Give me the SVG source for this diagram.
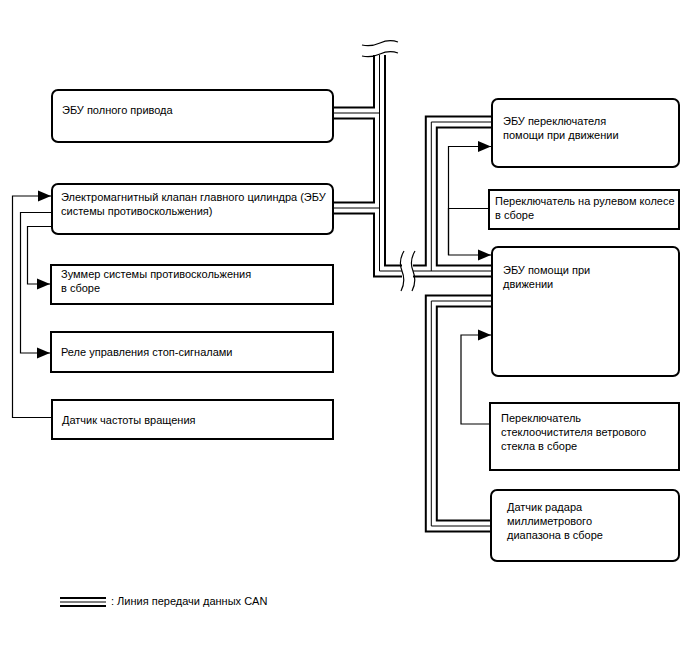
<svg xmlns="http://www.w3.org/2000/svg" width="688" height="658" viewBox="0 0 688 658">
<style>
.box{fill:#fff;stroke:#000;stroke-width:2}
.t{font-family:"Liberation Sans",Arial,sans-serif;font-size:11px;fill:#000}
.busB{fill:none;stroke:#000;stroke-width:13;stroke-linejoin:miter;stroke-linecap:butt}
.busW{fill:none;stroke:#fff;stroke-width:9;stroke-linejoin:miter;stroke-linecap:butt}
.busM{fill:none;stroke:#000;stroke-width:1;stroke-linejoin:miter;stroke-linecap:butt}
.wire{fill:none;stroke:#000;stroke-width:1.2}
.brk{fill:none;stroke:#000;stroke-width:1.2}
</style>
<defs>
<marker id="arr" markerUnits="userSpaceOnUse" markerWidth="14" markerHeight="12" refX="13" refY="6" orient="auto">
<path d="M0,0.5 L13,6 L0,11.5 Z" fill="#000"/>
</marker>
</defs>
<g id="connectors">
<g id="can-bus">
<path class="busB" d="M379.5,55 V271 H402 M379.5,113 H333 M379.5,208 H333 M413,271 H491 M431.3,271 V122 H491 M491,301 H431.3 V526 H491"/>
<path class="busW" d="M379.5,55 V271 H402 M379.5,113 H333 M379.5,208 H333 M413,271 H491 M431.3,271 V122 H491 M491,301 H431.3 V526 H491"/>
<path class="busM" d="M379.5,55 V271 H402 M379.5,113 H333 M379.5,208 H333 M413,271 H491 M431.3,271 V122 H491 M491,301 H431.3 V526 H491"/>
<path class="brk" d="M362,45 Q371,47 380,43 T398,42"/>
<path class="brk" d="M362,56 Q371,58 380,54 T398,53"/>
<path class="brk" d="M404,251 Q398,261 402,271 T401,291"/>
<path class="brk" d="M415,251 Q409,261 413,271 T412,291"/>
</g>
<path class="wire" d="M52,417.5 H12.5 V196 H51" marker-end="url(#arr)"/>
<path class="wire" d="M52,212.5 H20.5 V353 H50" marker-end="url(#arr)"/>
<path class="wire" d="M52,226.5 H27.5 V284 H50" marker-end="url(#arr)"/>
<path class="wire" d="M489,208.5 H448.5"/>
<path class="wire" d="M448.5,255 V146.5 H491" marker-end="url(#arr)"/>
<path class="wire" d="M448.5,208 V255 H491" marker-end="url(#arr)"/>
<path class="wire" d="M490,424 H461 V335 H491" marker-end="url(#arr)"/>
</g>
<g id="ecu-4wd"><rect class="box" x="52" y="90" width="281" height="52" rx="6"/><text class="t" x="62" y="114">ЭБУ полного привода</text></g>
<g id="master-cyl"><rect class="box" x="52" y="184" width="281" height="50" rx="6"/><text class="t" x="61" y="201">Электромагнитный клапан главного цилиндра (ЭБУ</text><text class="t" x="61" y="215">системы противоскольжения)</text></g>
<g id="buzzer"><rect class="box" x="51" y="265" width="282" height="39"/><text class="t" x="61" y="278">Зуммер системы противоскольжения</text><text class="t" x="61" y="292">в сборе</text></g>
<g id="relay"><rect class="box" x="51" y="332" width="282" height="40"/><text class="t" x="61" y="356">Реле управления стоп-сигналами</text></g>
<g id="speed-sensor"><rect class="box" x="52" y="400" width="281" height="39"/><text class="t" x="62" y="424">Датчик частоты вращения</text></g>
<g id="ecu-switch"><rect class="box" x="492" y="99" width="187" height="68" rx="6"/><text class="t" x="503" y="125">ЭБУ переключателя</text><text class="t" x="503" y="139">помощи при движении</text></g>
<g id="steering-switch"><rect class="box" x="489" y="190" width="190" height="39"/><text class="t" x="495" y="205">Переключатель на рулевом колесе</text><text class="t" x="495" y="219">в сборе</text></g>
<g id="ecu-assist"><rect class="box" x="492" y="247" width="187" height="129" rx="6"/><text class="t" x="503" y="274">ЭБУ помощи при</text><text class="t" x="503" y="288">движении</text></g>
<g id="wiper-switch"><rect class="box" x="490" y="403" width="189" height="67"/><text class="t" x="501" y="422">Переключатель</text><text class="t" x="501" y="436">стеклоочистителя ветрового</text><text class="t" x="501" y="450">стекла в сборе</text></g>
<g id="radar"><rect class="box" x="491" y="490" width="188" height="71" rx="6"/><text class="t" x="507" y="511">Датчик радара</text><text class="t" x="507" y="525">миллиметрового</text><text class="t" x="507" y="539">диапазона в сборе</text></g>
<g id="legend">
<line x1="60" y1="598" x2="106" y2="598" stroke="#000" stroke-width="2"/>
<line x1="60" y1="602" x2="106" y2="602" stroke="#000" stroke-width="1"/>
<line x1="60" y1="606" x2="106" y2="606" stroke="#000" stroke-width="2"/>
<text class="t" x="111" y="605">: Линия передачи данных CAN</text>
</g>
</svg>
